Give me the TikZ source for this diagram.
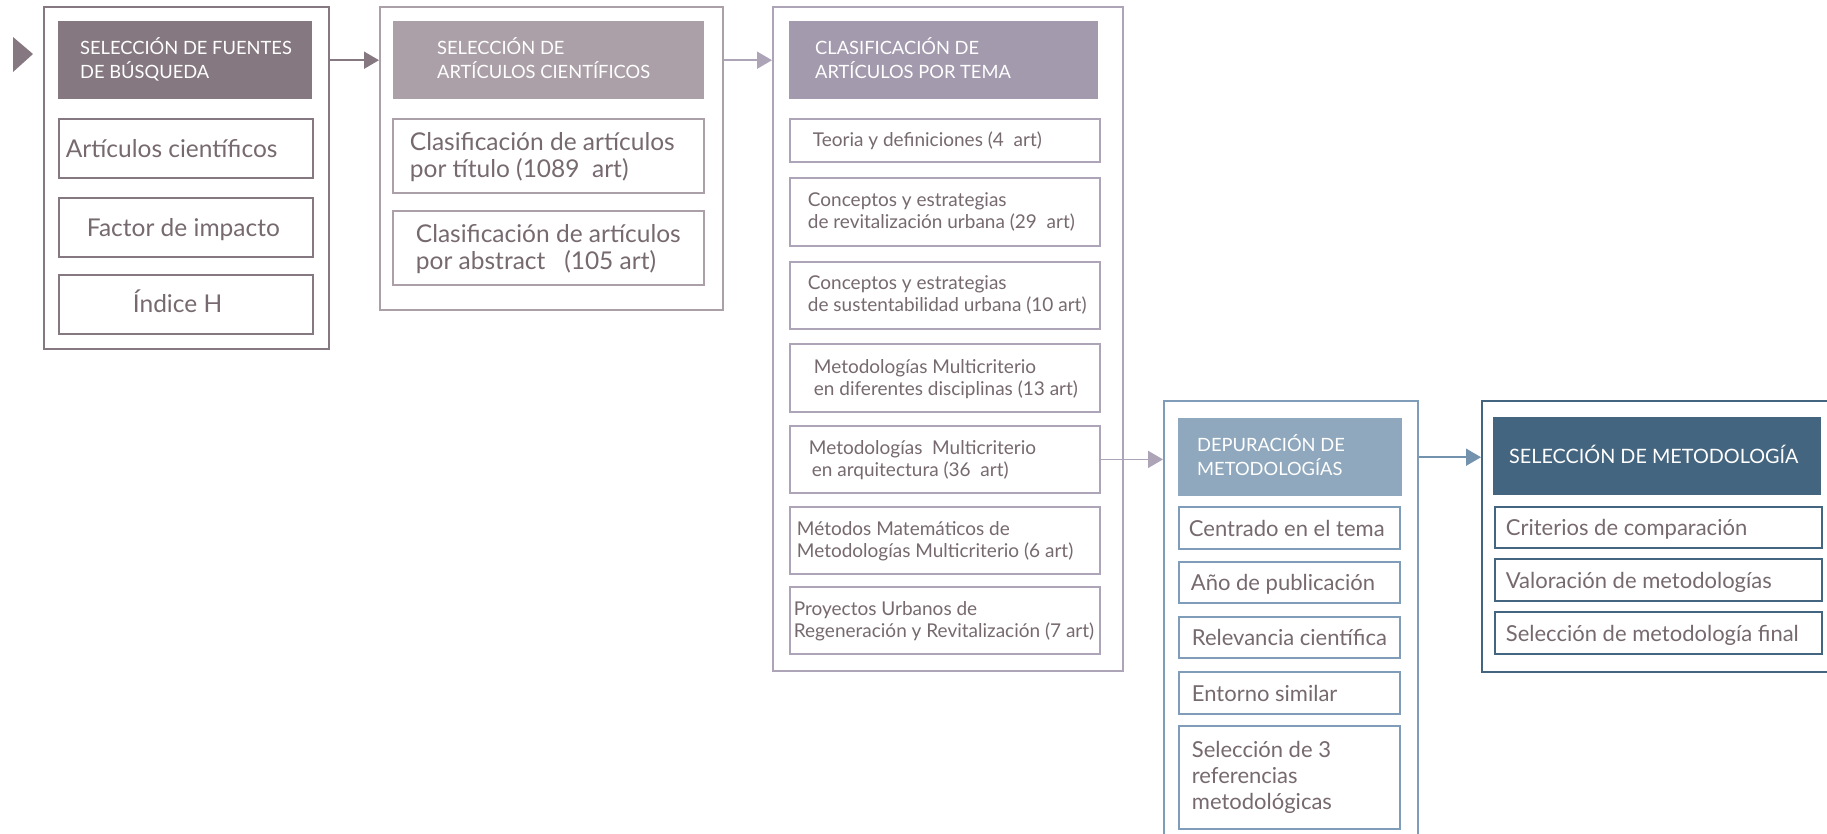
\documentclass[tikz,border=0pt]{standalone}
\usepackage{fontspec}
\setmainfont{Lato}
\usetikzlibrary{arrows.meta}

% palette
\definecolor{mauveD}{HTML}{857880}
\definecolor{mauveM}{HTML}{ABA0A7}
\definecolor{lilac}{HTML}{A39AAE}
\definecolor{lilacL}{HTML}{ADA4B8}
\definecolor{blueL}{HTML}{8FA8BD}
\definecolor{blueM}{HTML}{7F9DB8}
\definecolor{blueD}{HTML}{44657F}
\definecolor{txt}{HTML}{76696F}

% box with its top-left corner at (#3,#4) and bottom-right at (#5,#6);
% its lines of text start #7 from the left edge and never wrap
\def\bxdrop{0pt}
\newcommand\tbox[8]{%
  \pgfmathsetmacro\bxw{#5-#3}%
  \pgfmathsetmacro\bxh{#6-#4}%
  \pgfmathsetmacro\bxt{#5-#3-2*#7}%
  \node[#2, anchor=north west, minimum width=\bxw pt, minimum height=\bxh pt,
        inner xsep=#7 pt, inner ysep=0pt] (#1) at (#3,#4)
        {\raisebox{-\bxdrop}[\height][\depth]{\makebox[\bxt pt][l]{\begin{tabular}{@{}l@{}}#8\end{tabular}}}};}

\tikzset{
  drop/.code={\def\bxdrop{#1}},
  frame/.style={draw=#1, line width=2.4pt},
  head/.style={fill=#1, text=white, font=\fontsize{18.3}{21}\selectfont, drop=1pt},
  item/.style={draw=#1, fill=white, line width=1.8pt, text=txt, drop=3pt},
  link/.style={draw=#1, line width=1.8pt, -{Triangle[length=15pt, width=17pt, fill=#1]}},
}

\begin{document}
\begin{tikzpicture}[x=1pt, y=-1pt]
\useasboundingbox (0,0) rectangle (1827,833);

% start marker
\fill[mauveD] (13,37) -- (33,54) -- (13,72) -- cycle;

% 1. sources
\tbox{f1}{frame=mauveD}{43}{6}{328}{348}{0}{}
\tbox{h1}{head=mauveD}{58}{21}{312}{99}{22}{SELECCIÓN DE FUENTES\\DE BÚSQUEDA}
\tikzset{src/.style={item=mauveD, font=\fontsize{24.5}{28}\selectfont}}
\tbox{a1}{src}{58}{118}{312}{177}{7}{Artículos científicos}
\tbox{a2}{src}{58}{197}{312}{256}{28}{Factor de impacto}
\tbox{a3}{src, drop=1pt}{58}{274}{312}{333}{74}{Índice H}

% 2. article selection
\tbox{f2}{frame=mauveM}{379}{6}{722}{309}{0}{}
\tbox{h2}{head=mauveM}{393}{21}{704}{99}{44}{SELECCIÓN DE\\ARTÍCULOS CIENTÍFICOS}
\tikzset{art/.style={item=mauveM, font=\fontsize{24.5}{27}\selectfont}}
\tbox{b1}{art}{392}{118}{703}{192}{17}{Clasificación de artículos\\por título (1089\ \ art)}
\tbox{b2}{art}{392}{210}{703}{284}{23}{Clasificación de artículos\\por abstract\ \ \ (105 art)}

% 3. classification by topic
\tbox{f3}{frame=lilacL}{772}{6}{1122}{670}{0}{}
\tbox{h3}{head=lilac}{789}{21}{1098}{99}{26}{CLASIFICACIÓN DE\\ARTÍCULOS POR TEMA}
\tikzset{tema/.style={item=lilacL, font=\fontsize{19}{22}\selectfont, drop=2pt}}
\tbox{c1}{tema}{789}{118}{1099}{161}{23}{Teoria y definiciones (4\ \ art)}
\tbox{c2}{tema, drop=1pt}{789}{177}{1099}{245}{18}{Conceptos y estrategias\\de revitalización urbana (29\ \ art)}
\tbox{c3}{tema, drop=1pt}{789}{261}{1099}{328}{18}{Conceptos y estrategias\\de sustentabilidad urbana (10\ art)}
\tbox{c4}{tema}{789}{343}{1099}{411}{24}{Metodologías Multicriterio\\en diferentes disciplinas (13\ art)}
\tbox{c5}{tema}{789}{425}{1099}{492}{19}{Metodologías\ \ Multicriterio\\\hspace*{3pt}en arquitectura (36\ \ art)}
\tbox{c6}{tema}{789}{506}{1099}{573}{7}{Métodos Matemáticos de\\Metodologías Multicriterio (6\ art)}
\tbox{c7}{tema}{789}{586}{1099}{653}{4}{Proyectos Urbanos de\\Regeneración y Revitalización (7\ art)}

% 4. screening of methodologies
\tbox{f4}{frame=blueM}{1163}{400}{1417}{860}{0}{}
\tbox{h4}{head=blueL}{1178}{418}{1402}{496}{19}{DEPURACIÓN DE\\METODOLOGÍAS}
\tikzset{crit/.style={item=blueM, font=\fontsize{22}{26}\selectfont}}
\tbox{d1}{crit}{1178}{506}{1399}{548}{10}{Centrado en el tema}
\tbox{d2}{crit}{1178}{561}{1399}{602}{12}{Año de publicación}
\tbox{d3}{crit}{1178}{616}{1399}{657}{13}{Relevancia científica}
\tbox{d4}{crit}{1178}{671}{1399}{713}{13}{Entorno similar}
\tbox{d5}{crit, drop=1pt}{1178}{725}{1399}{828}{13}{Selección de 3\\referencias\\metodológicas}

% 5. selection of methodology
\tbox{f5}{frame=blueD}{1481}{400}{1850}{671}{0}{}
\tbox{h5}{head=blueD, font=\fontsize{19.8}{22}\selectfont}{1493}{417}{1821}{495}{16}{SELECCIÓN DE METODOLOGÍA}
\tikzset{fin/.style={item=blueD, font=\fontsize{22}{26}\selectfont}}
\tbox{e1}{fin}{1494}{506}{1821}{547}{11}{Criterios de comparación}
\tbox{e2}{fin}{1494}{558}{1821}{600}{11}{Valoración de metodologías}
\tbox{e3}{fin}{1494}{611}{1821}{653}{11}{Selección de metodología final}

% flow
\draw[link=mauveD] (f1.east |- h1.east) -- (f2.west |- h1.east);
\draw[link=lilacL] (f2.east |- h2.east) -- (f3.west |- h2.east);
\draw[link=lilacL] (c5.east) -- (f4.west |- c5.east);
\draw[link=blueM!80!blueD] (f4.east |- h4.east) -- (f5.west |- h4.east);
\end{tikzpicture}
\end{document}
